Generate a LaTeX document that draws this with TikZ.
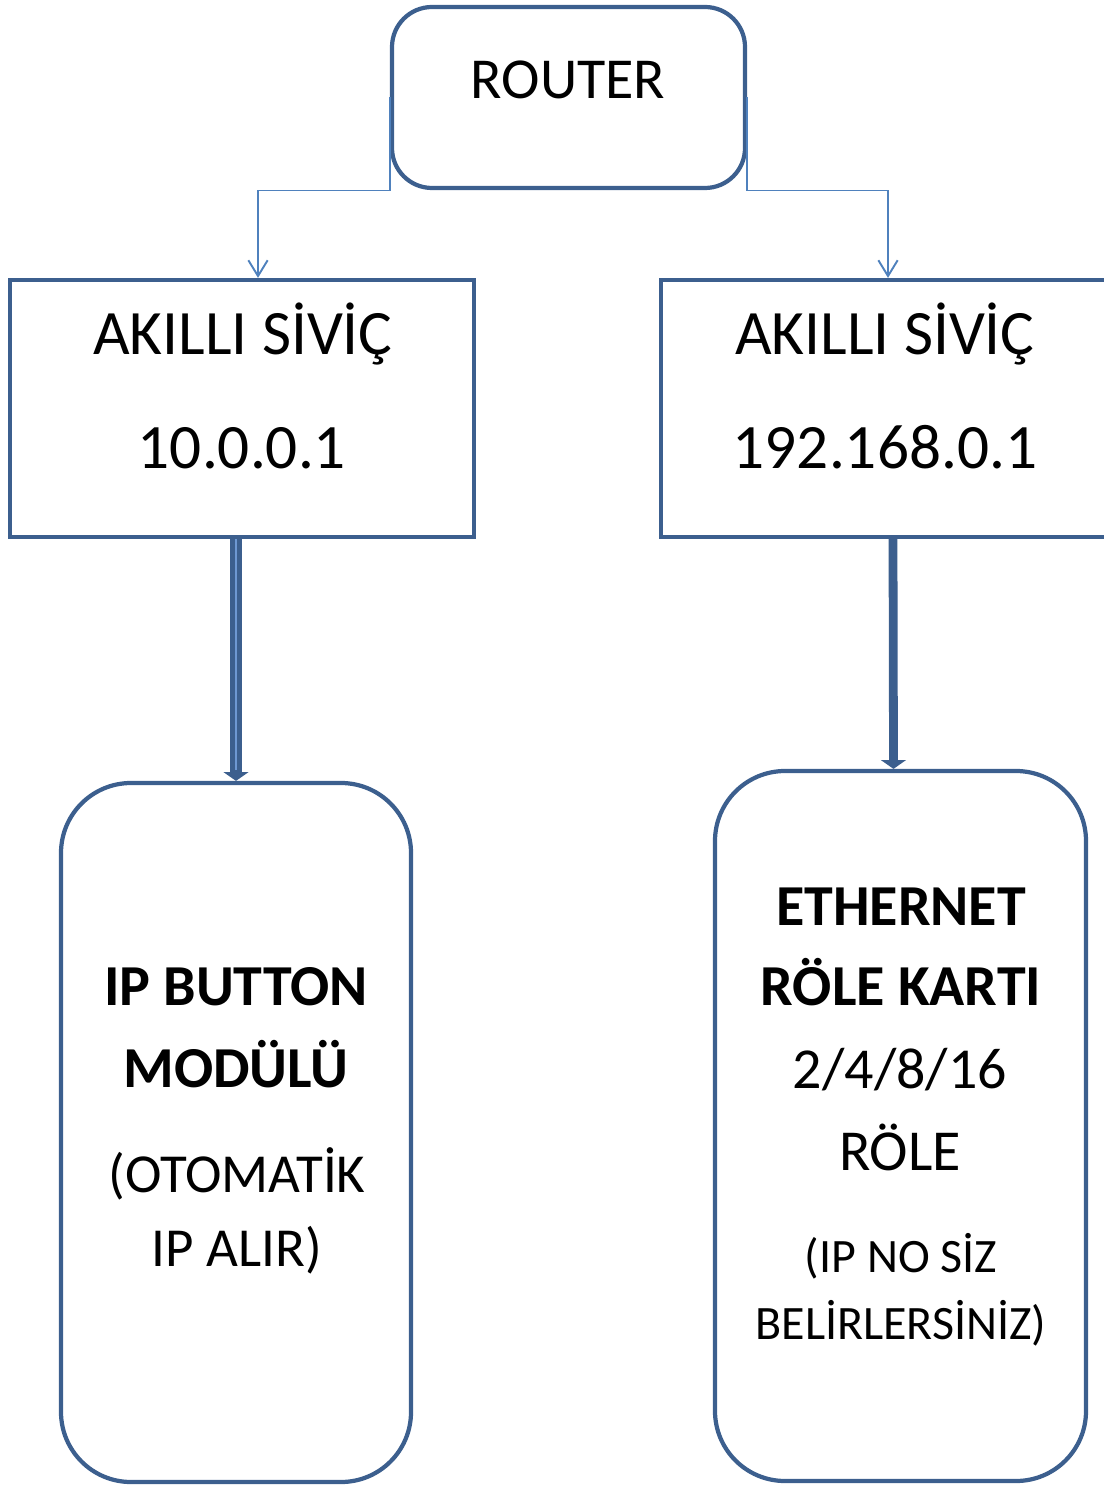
\documentclass[tikz,border=0pt]{standalone}
\usepackage{fontspec}
\setmainfont{Carlito}
\usetikzlibrary{shapes,arrows.meta}
\definecolor{boxblue}{HTML}{3C5F8E}
\definecolor{linkblue}{HTML}{4F81BD}
\definecolor{stripeblue}{HTML}{6E98D2}
\def\px{0.02cm}
\begin{document}
\begin{tikzpicture}[x=0.02cm, y=-0.02cm,
  box/.style={draw=boxblue, line width=2.4pt, rectangle, inner sep=0pt},
  link/.style={draw=linkblue, line width=1.1pt, -{Straight Barb[length=9pt,width=11pt]}},
  feed/.style={draw=boxblue, line width=5pt, -{Triangle[length=5pt,width=14pt]}},
  txt/.style={anchor=base, inner sep=0pt}]
\useasboundingbox (0,0) rectangle (1103,1486);
% boxes, px units
\node [box, rounded corners=40*\px, minimum width=353*\px, minimum height=181*\px] (router) at (568.5,97.5) {};
\node [box, minimum width=464*\px, minimum height=257*\px] (sw1) at (242,408.5) {};
\node [box, minimum width=454*\px, minimum height=257*\px] (sw2) at (888,408.5) {};
\node [box, rounded corners=70*\px, minimum width=350*\px, minimum height=699*\px] (ipbox) at (236,1132.5) {};
\node [box, rounded corners=70*\px, minimum width=371*\px, minimum height=710*\px] (relay) at (900.5,1126) {};
% texts
\node [txt, font=\fontsize{33}{40}\selectfont] (tr) at (568,99) {ROUTER};
\node [txt, font=\fontsize{36}{42}\selectfont] (ts1a) at (243,355) {AKILLI SİVİÇ};
\node [txt, font=\fontsize{36}{42}\selectfont] (ts1b) at (242,468) {10.0.0.1};
\node [txt, font=\fontsize{36}{42}\selectfont] (ts2a) at (885,355) {AKILLI SİVİÇ};
\node [txt, font=\fontsize{36}{42}\selectfont] (ts2b) at (885,468) {192.168.0.1};
\node [txt, font=\fontsize{33}{40}\selectfont\bfseries] (tip1) at (236,1005) {IP BUTTON};
\node [txt, font=\fontsize{33}{40}\selectfont\bfseries] (tip2) at (236,1087) {MODÜLÜ};
\node [txt, font=\fontsize{31.3}{37}\selectfont] (tip3) at (237,1192) {(OTOMATİK};
\node [txt, font=\fontsize{31.3}{37}\selectfont] (tip4) at (237,1266) {IP ALIR)};
\node [txt, font=\fontsize{33}{40}\selectfont\bfseries] (trl1) at (901,925) {ETHERNET};
\node [txt, font=\fontsize{33}{40}\selectfont\bfseries] (trl2) at (901,1005) {RÖLE KARTI};
\node [txt, font=\fontsize{33}{40}\selectfont] (trl3) at (900,1088) {2/4/8/16};
\node [txt, font=\fontsize{33}{40}\selectfont] (trl4) at (900,1170) {RÖLE};
\node [txt, font=\fontsize{27.3}{32}\selectfont] (trl5) at (901,1272) {(IP NO SİZ};
\node [txt, font=\fontsize{27.3}{32}\selectfont] (trl6) at (901,1339) {BELİRLERSİNİZ)};
% connectors
\draw [link] (router.west) -- ++(0,93) -| ([xshift=16*\px]sw1.north);
\draw [link] (router.east) -- ++(0,93) -| (sw2.north);
\draw [feed, line width=6.6pt, postaction={draw=stripeblue, line width=0.8pt, arrows=-, shorten >=6pt}] (sw1.south -| ipbox.north) -- (ipbox.north);
\draw [feed] ([xshift=5*\px]sw2.south) -- ([xshift=-7*\px]relay.north);
\end{tikzpicture}
\end{document}
